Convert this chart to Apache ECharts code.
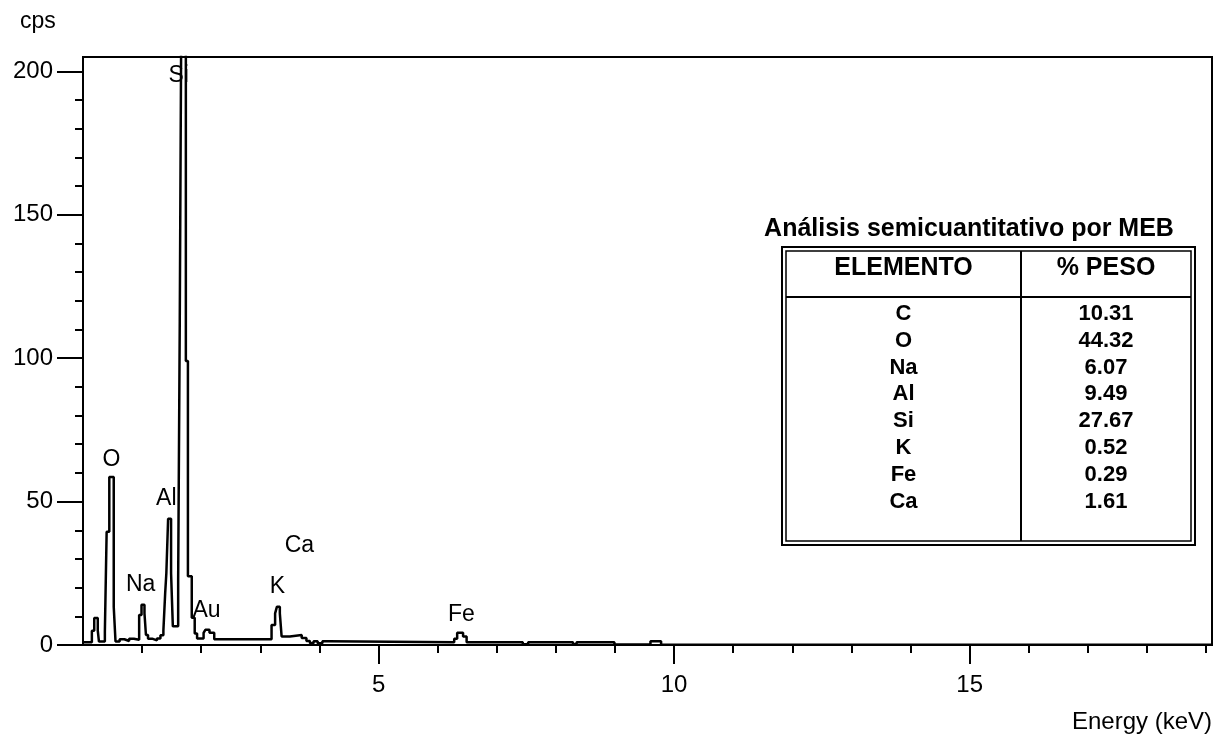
<!DOCTYPE html>
<html>
<head>
<meta charset="utf-8">
<script src="https://cdn.jsdelivr.net/npm/echarts@6/dist/echarts.min.js"></script>
<style>html,body{margin:0;padding:0;background:#fff}#c{width:1228px;height:740px}</style>
</head>
<body>
<div id="c"></div>
<script>
// Spectrum (step line): left edge of each bin in keV and counts per second
const specE = [0.00,0.15,0.19,0.25,0.27,0.37,0.40,0.445,0.52,0.55,0.62,0.70,0.78,0.86,0.95,0.99,1.04,1.065,1.10,1.17,1.25,1.31,1.36,1.39,1.41,1.44,1.49,1.52,1.61,1.637,1.67,1.74,1.775,1.84,1.89,1.93,2.04,2.07,2.14,2.22,3.19,3.25,3.28,3.33,3.36,3.50,3.70,3.78,3.84,3.90,3.97,4.05,4.15,6.28,6.33,6.43,6.49,7.44,7.53,8.29,8.35,8.99,9.60,9.78,19.1];
const specCps = [1.0,5.0,9.4,5.0,1.2,4.6,39.5,58.6,13.3,1.2,2.0,1.4,2.2,1.8,10.5,14.0,11.0,3.5,2.2,1.6,2.3,3.4,5.0,18.0,25.0,44.0,25.0,6.5,22.6,113,250,99,24,9.5,4.0,2.3,4.2,5.3,4.3,2.0,7.0,11.0,13.3,11.0,3.0,3.5,2.4,1.4,0.6,1.3,0.6,1.3,1.0,2.2,4.3,3.0,1.0,0.3,1.0,0.3,1.0,0.2,1.3,0.1,0.1];

// Peak labels
const peakNames = ['Si','O','Al','Na','Au','K','Ca','Fe'];
const peakE = [1.62,0.48,1.41,0.976,2.09,3.29,3.66,6.40];
const peakCps = [198.5,64.5,50.9,21.2,11.8,20.2,34.5,10.5];

// Axis ticks
const xMajorTicks = [5,10,15];
const xMinorTicks = [1,2,3,4,6,7,8,9,11,12,13,14,16,17,18,19];
const yMajorTicks = [0,50,100,150,200];
const yMinorTicks = [10,20,30,40,60,70,80,90,110,120,130,140,160,170,180,190];

// Table
const tableTitle = 'Análisis semicuantitativo por MEB';
const tableHeader = ['ELEMENTO','% PESO'];
const elements = ['C','O','Na','Al','Si','K','Fe','Ca'];
const weights = ['10.31','44.32','6.07','9.49','27.67','0.52','0.29','1.61'];

const FONT = '"Liberation Sans", Arial, sans-serif';
const chart = echarts.init(document.getElementById('c'), null, {renderer:'canvas'});

const tableEls = [];
const L = 782, T = 247, R = 1195, B = 545, colX = 1021, hdrY = 297;
tableEls.push({type:'rect', shape:{x:L,y:T,width:R-L,height:B-T}, style:{fill:'#fff',stroke:'#000',lineWidth:2}});
tableEls.push({type:'rect', shape:{x:L+4,y:T+4,width:R-L-8,height:B-T-8}, style:{fill:'none',stroke:'#000',lineWidth:1.5}});
tableEls.push({type:'line', shape:{x1:colX,y1:T+4,x2:colX,y2:B-4}, style:{stroke:'#000',lineWidth:2}});
tableEls.push({type:'line', shape:{x1:L+4,y1:hdrY,x2:R-4,y2:hdrY}, style:{stroke:'#000',lineWidth:2}});
const c1 = (L+4+colX)/2, c2 = (colX+R-4)/2;
tableEls.push({type:'text', x:c1, y:268, style:{text:tableHeader[0], font:'bold 25px '+FONT, fill:'#000', align:'center', verticalAlign:'middle'}});
tableEls.push({type:'text', x:c2, y:268, style:{text:tableHeader[1], font:'bold 25px '+FONT, fill:'#000', align:'center', verticalAlign:'middle'}});
elements.forEach((el,i)=>{
  const y = 314 + i*26.8;
  tableEls.push({type:'text', x:c1, y:y, style:{text:el, font:'bold 22px '+FONT, fill:'#000', align:'center', verticalAlign:'middle'}});
  tableEls.push({type:'text', x:c2, y:y, style:{text:weights[i], font:'bold 22px '+FONT, fill:'#000', align:'center', verticalAlign:'middle'}});
});
tableEls.push({type:'text', x:969, y:229, style:{text:tableTitle, font:'bold 25px '+FONT, fill:'#000', align:'center', verticalAlign:'middle'}});

const axisCommon = {
  type:'value', min:0, splitLine:{show:false}
};

chart.setOption({
  animation:false,
  backgroundColor:'#fff',
  grid:{left:83, right:16, top:57, bottom:95, show:true, borderColor:'#000', borderWidth:2, backgroundColor:'transparent'},
  xAxis:[
    Object.assign({}, axisCommon, {max:19.1, position:'bottom',
      axisLine:{show:true, lineStyle:{color:'#000', width:2}},
      axisTick:{show:true, customValues:xMajorTicks, length:19, lineStyle:{color:'#000', width:2}},
      axisLabel:{show:true, customValues:xMajorTicks, margin:28, color:'#000', fontSize:24, fontFamily:FONT}
    }),
    Object.assign({}, axisCommon, {max:19.1, position:'bottom',
      axisLine:{show:false},
      axisTick:{show:true, customValues:xMinorTicks, length:8, lineStyle:{color:'#000', width:2}},
      axisLabel:{show:false}
    })
  ],
  yAxis:[
    Object.assign({}, axisCommon, {max:205, position:'left',
      axisLine:{show:true, lineStyle:{color:'#000', width:2}},
      axisTick:{show:true, customValues:yMajorTicks, length:26, lineStyle:{color:'#000', width:2}},
      axisLabel:{show:true, customValues:yMajorTicks, margin:30, color:'#000', fontSize:24, fontFamily:FONT}
    }),
    Object.assign({}, axisCommon, {max:205, position:'left',
      axisLine:{show:false},
      axisTick:{show:true, customValues:yMinorTicks, length:8, lineStyle:{color:'#000', width:2}},
      axisLabel:{show:false}
    })
  ],
  series:[
    {
      type:'line', step:'end', xAxisIndex:0, yAxisIndex:0,
      data: specE.map((e,i)=>[e, specCps[i]]),
      showSymbol:false, symbol:'none', clip:true,
      lineStyle:{color:'#000', width:2.5}, silent:true, z:3
    },
    {
      type:'scatter', xAxisIndex:0, yAxisIndex:0,
      data: peakE.map((e,i)=>({name:peakNames[i], value:[e, peakCps[i]]})),
      symbolSize:1, itemStyle:{color:'rgba(255,255,255,0)'}, silent:true, z:4,
      label:{show:true, position:'inside', formatter:p=>p.name, color:'#000', opacity:1, textBorderWidth:0, fontSize:23, fontFamily:FONT}
    }
  ],
  graphic:[
    {type:'text', left:20, top:10, style:{text:'cps', font:'23px '+FONT, fill:'#000'}},
    {type:'text', right:16, top:710, style:{text:'Energy (keV)', font:'24px '+FONT, fill:'#000'}},
    {type:'group', children:tableEls, z:10}
  ]
});
</script>
</body>
</html>
